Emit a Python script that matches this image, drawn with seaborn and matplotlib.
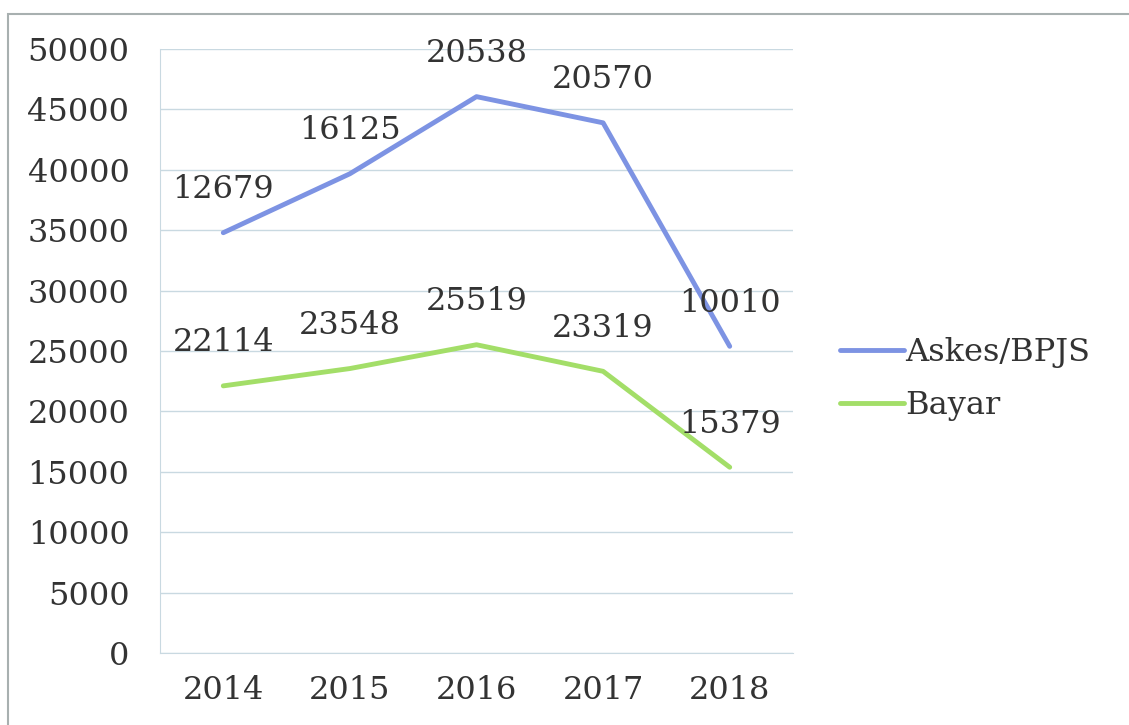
import matplotlib.pyplot as plt
import matplotlib.patches as mpatches
import seaborn as sns
import pandas as pd
import numpy as np

sns.set_style("white")
plt.rcParams["font.family"] = ["DejaVu Serif"]

# Data (stacked line chart: Askes/BPJS is drawn on top of Bayar)
tahun = ["2014", "2015", "2016", "2017", "2018"]
askes = [12679, 16125, 20538, 20570, 10010]
bayar = [22114, 23548, 25519, 23319, 15379]
seri = ["Askes/BPJS", "Bayar"]
warna = {"Askes/BPJS": "#7d93e3", "Bayar": "#a3de68"}

askes_tumpuk = list(np.array(bayar) + np.array(askes))
df = pd.DataFrame({
    "tahun": tahun * 2,
    "pos": list(range(len(tahun))) * 2,
    "nilai": askes_tumpuk + bayar,
    "label": askes + bayar,
    "seri": ["Askes/BPJS"] * len(tahun) + ["Bayar"] * len(tahun),
})

fs = 23
teks = "#333333"

fig = plt.figure(figsize=(11.29, 7.25), dpi=100)
ax = fig.add_axes([0.1417, 0.0993, 0.5607, 0.8331])

sns.lineplot(data=df, x="pos", y="nilai", hue="seri", hue_order=seri,
             palette=warna, linewidth=3.5, ax=ax, legend=False)

# Data labels (raw values, above the points)
for _, r in df.iterrows():
    ax.annotate(f"{r['label']}", (r["pos"], r["nilai"]), xytext=(0, 31),
                textcoords="offset points", ha="center", va="center",
                fontsize=fs, color=teks)

grid_col = "#c9d9e1"
ax.set_ylim(0, 50000)
ax.set_yticks(range(0, 50001, 5000))
ax.set_xlim(-0.5, len(tahun) - 0.5)
ax.set_xticks(range(len(tahun)))
ax.set_xticklabels(tahun)
ax.set_xticks(np.arange(-0.5, len(tahun), 1), minor=True)
ax.tick_params(axis="x", which="major", length=0, pad=16, labelsize=fs, labelcolor=teks)
ax.tick_params(axis="x", which="minor", length=8, color=grid_col, direction="out")
ax.tick_params(axis="y", length=10, color=grid_col, direction="out", pad=12,
               labelsize=fs, labelcolor=teks)
ax.yaxis.grid(True, color=grid_col, linewidth=1)
for s in ["top", "right"]:
    ax.spines[s].set_visible(False)
for s in ["left", "bottom"]:
    ax.spines[s].set_color(grid_col)
ax.set_xlabel("")
ax.set_ylabel("")

handles = [plt.Line2D([], [], color=warna[s], linewidth=3.5) for s in seri]
fig.legend(handles, seri, loc="center left", bbox_to_anchor=(0.744, 0.477),
           frameon=False, fontsize=fs, handlelength=2.0, handletextpad=0.05,
           labelspacing=0.7, borderpad=0, borderaxespad=0, labelcolor=teks)

# Outer chart border
fig.patches.append(mpatches.Rectangle((8 / 1129, -0.02), 1.1, (725 - 14) / 725 + 0.02,
                                      transform=fig.transFigure, fill=False,
                                      edgecolor="#a8b0b0", linewidth=1.5))

fig.savefig("out.png", dpi=100)
